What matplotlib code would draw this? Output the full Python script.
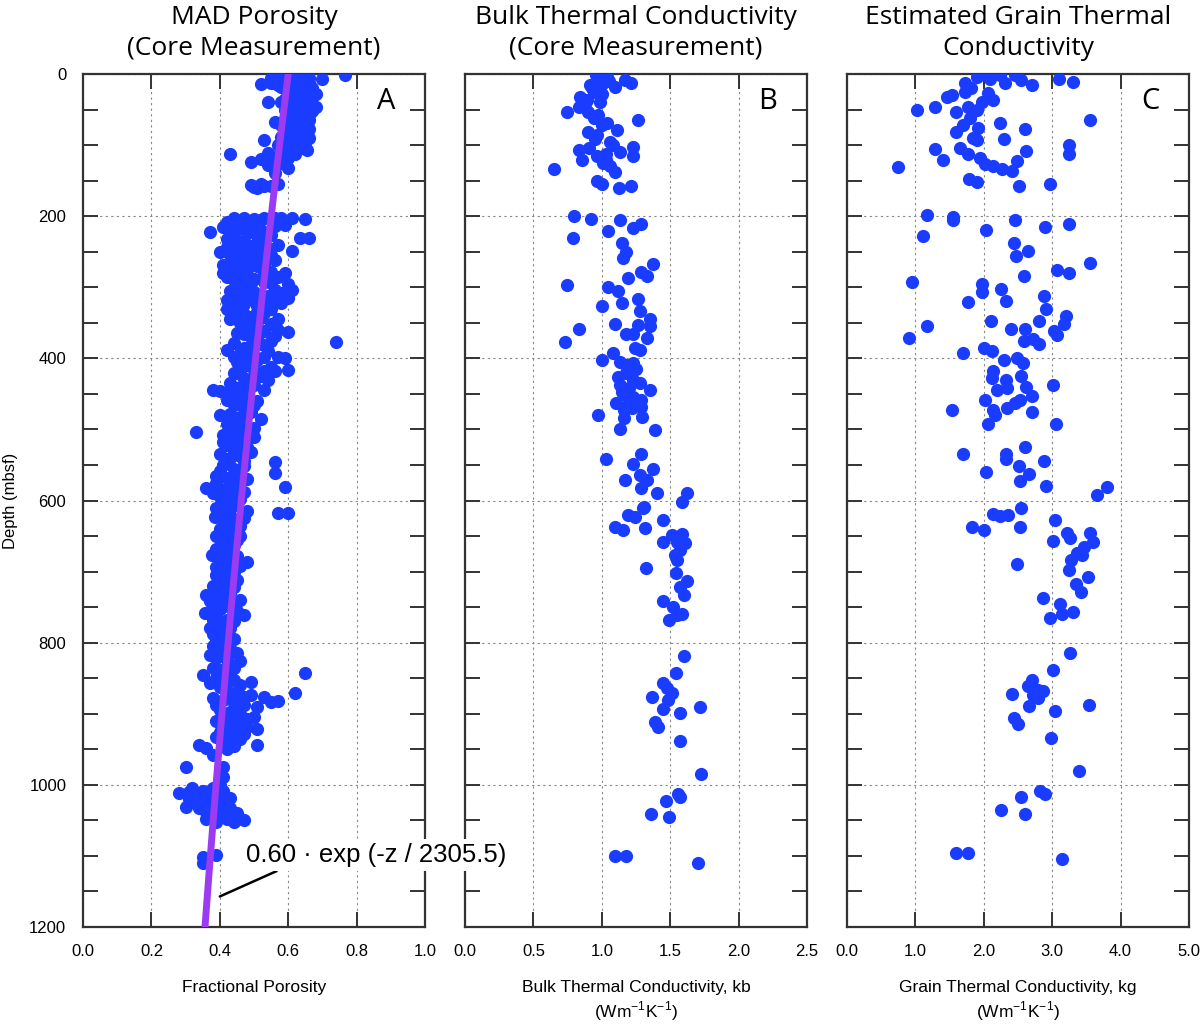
import numpy as np
import matplotlib.pyplot as plt
from matplotlib.ticker import MultipleLocator, FormatStrFormatter

plt.rcParams['font.family'] = ['Liberation Sans Narrow', 'Liberation Sans', 'DejaVu Sans']

# panel A: MAD porosity (porosity, depth mbsf), split by depth interval
mad_0_170 = [
    (0.55, 5), (0.58, 2), (0.61, 0), (0.62, 3), (0.63, 1), (0.64, 4), (0.65, 2), (0.66, 6), (0.70, 7), (0.766, 1),
    (0.52, 14), (0.55, 12), (0.57, 15), (0.63, 10), (0.65, 15),
    (0.58, 18), (0.60, 12), (0.61, 20), (0.62, 15), (0.63, 22), (0.64, 18), (0.65, 25), (0.66, 12), (0.67, 20),
    (0.68, 28), (0.60, 26), (0.62, 29), (0.66, 30),
    (0.54, 39), (0.59, 35), (0.60, 42), (0.61, 38), (0.62, 45), (0.63, 33), (0.64, 40), (0.65, 50), (0.66, 36),
    (0.67, 44), (0.68, 46), (0.60, 55), (0.62, 52), (0.64, 57), (0.66, 58), (0.62, 35), (0.63, 55), (0.59, 50),
    (0.56, 67), (0.58, 72), (0.59, 63), (0.60, 70), (0.61, 80), (0.62, 65), (0.63, 75), (0.64, 85), (0.65, 68),
    (0.66, 78), (0.58, 88), (0.60, 95), (0.62, 90), (0.63, 100), (0.65, 97), (0.655, 107), (0.53, 93), (0.57, 100),
    (0.59, 104), (0.61, 108), (0.54, 111), (0.64, 65), (0.61, 92),
    (0.43, 113), (0.49, 124), (0.52, 120), (0.55, 118), (0.57, 115), (0.58, 125), (0.60, 132), (0.56, 139),
    (0.54, 128), (0.59, 119), (0.62, 113),
    (0.49, 156), (0.50, 159), (0.52, 154), (0.53, 158), (0.55, 157), (0.57, 155), (0.51, 161),
    (0.60, 5), (0.63, 6), (0.59, 10), (0.61, 27), (0.64, 24), (0.67, 32), (0.58, 40), (0.65, 42), (0.61, 48),
    (0.67, 52), (0.63, 62), (0.60, 60), (0.66, 64), (0.62, 72), (0.65, 80), (0.59, 78), (0.63, 86), (0.60, 84),
    (0.66, 90), (0.62, 98), (0.64, 104), (0.58, 110), (0.60, 118), (0.57, 126),
]

mad_200_470 = [
    (0.44, 203), (0.47, 203), (0.50, 204), (0.53, 203), (0.56, 202), (0.58, 203), (0.61, 202), (0.65, 204),
    (0.42, 208), (0.45, 210), (0.52, 206), (0.37, 222), (0.635, 231), (0.66, 231), (0.61, 249), (0.59, 280),
    (0.57, 240), (0.55, 226),
    (0.41, 215), (0.43, 220), (0.45, 218), (0.48, 224), (0.50, 216), (0.53, 222), (0.42, 232), (0.44, 238),
    (0.47, 235), (0.49, 242), (0.52, 236), (0.54, 245), (0.40, 250), (0.43, 255), (0.45, 248), (0.47, 260),
    (0.50, 252), (0.53, 258), (0.56, 262), (0.41, 268), (0.43, 272), (0.46, 266), (0.48, 275), (0.51, 270),
    (0.55, 278), (0.42, 285), (0.44, 290), (0.47, 282), (0.50, 288), (0.53, 292), (0.57, 286), (0.60, 296),
    (0.45, 298), (0.48, 300),
    (0.43, 305), (0.46, 310), (0.50, 306), (0.54, 312), (0.58, 308), (0.61, 304), (0.42, 318), (0.45, 322),
    (0.49, 316), (0.53, 325), (0.56, 320), (0.60, 315), (0.44, 332), (0.47, 338), (0.51, 335), (0.55, 330),
    (0.43, 345), (0.46, 350), (0.48, 356), (0.52, 343), (0.55, 352), (0.57, 360), (0.60, 363), (0.45, 365),
    (0.49, 370), (0.44, 378), (0.47, 385), (0.52, 380), (0.55, 375), (0.74, 377), (0.46, 392), (0.50, 396),
    (0.54, 390), (0.57, 398),
    (0.59, 400), (0.60, 416), (0.45, 405), (0.48, 410), (0.51, 403), (0.55, 412), (0.44, 420), (0.47, 428),
    (0.52, 425), (0.56, 418), (0.43, 435), (0.46, 440), (0.50, 437), (0.38, 444), (0.40, 446), (0.42, 449),
    (0.53, 445), (0.45, 455), (0.48, 452), (0.51, 460), (0.44, 465), (0.47, 470),
    (0.46, 212), (0.49, 210), (0.56, 214), (0.59, 212), (0.44, 226), (0.51, 228), (0.46, 244), (0.51, 246),
    (0.42, 244), (0.48, 254), (0.55, 254), (0.44, 262), (0.50, 264), (0.53, 267), (0.45, 276), (0.53, 280),
    (0.41, 280), (0.46, 290), (0.49, 294), (0.55, 294), (0.44, 306), (0.48, 312), (0.52, 316), (0.56, 304),
    (0.47, 324), (0.51, 326), (0.58, 322), (0.42, 330), (0.49, 342), (0.53, 336), (0.57, 344), (0.45, 342),
    (0.50, 356), (0.53, 362), (0.47, 366), (0.51, 372), (0.56, 368), (0.49, 382), (0.42, 388), (0.53, 398),
    (0.48, 398), (0.44, 398), (0.50, 416), (0.53, 418), (0.46, 422), (0.49, 430), (0.54, 430), (0.44, 444),
    (0.48, 446), (0.47, 460), (0.50, 466), (0.42, 458),
]

mad_470_960 = [
    (0.43, 478), (0.46, 482), (0.49, 475), (0.52, 485), (0.42, 492), (0.45, 496), (0.48, 500), (0.33, 504),
    (0.41, 508), (0.44, 512), (0.47, 515), (0.50, 510), (0.42, 522), (0.45, 528), (0.48, 525), (0.40, 535),
    (0.43, 540), (0.46, 538), (0.56, 546), (0.41, 550), (0.44, 555), (0.47, 552), (0.56, 561), (0.39, 565),
    (0.42, 568), (0.45, 572), (0.36, 582), (0.39, 576), (0.41, 585), (0.44, 580), (0.47, 588), (0.59, 581),
    (0.40, 595), (0.43, 600), (0.46, 598),
    (0.57, 618), (0.60, 618), (0.39, 610), (0.42, 612), (0.45, 606), (0.48, 615), (0.386, 623), (0.41, 628),
    (0.44, 632), (0.47, 625), (0.40, 640), (0.43, 645), (0.46, 650), (0.41, 658), (0.44, 662), (0.39, 668),
    (0.42, 672), (0.377, 677), (0.45, 678), (0.48, 686), (0.40, 685), (0.43, 690), (0.41, 698),
    (0.39, 705), (0.42, 710), (0.45, 712), (0.38, 720), (0.41, 725), (0.44, 722), (0.36, 733), (0.39, 735),
    (0.42, 738), (0.46, 740), (0.38, 748), (0.40, 752), (0.43, 750), (0.357, 758), (0.47, 761), (0.39, 762),
    (0.42, 768), (0.40, 775), (0.43, 780), (0.38, 788), (0.41, 792), (0.44, 795),
    (0.38, 805), (0.40, 810), (0.43, 808), (0.37, 818), (0.39, 822), (0.42, 825), (0.46, 826), (0.35, 845),
    (0.38, 835), (0.40, 838), (0.43, 842), (0.65, 843), (0.39, 850), (0.41, 855), (0.44, 852), (0.49, 855),
    (0.40, 862), (0.42, 866), (0.45, 870), (0.49, 873), (0.53, 876), (0.57, 882), (0.62, 871), (0.38, 878),
    (0.41, 880), (0.44, 885), (0.47, 888), (0.40, 895), (0.43, 898), (0.46, 900), (0.50, 905), (0.39, 910),
    (0.42, 915), (0.45, 912), (0.48, 918), (0.51, 922), (0.40, 925), (0.43, 930), (0.46, 935), (0.41, 940),
    (0.44, 945), (0.51, 944), (0.34, 944), (0.36, 948),
    (0.40, 480), (0.44, 488), (0.47, 492), (0.50, 498), (0.45, 506), (0.43, 500), (0.41, 518), (0.46, 520),
    (0.49, 532), (0.44, 530), (0.42, 545), (0.47, 545), (0.40, 558), (0.45, 562), (0.43, 575), (0.48, 570),
    (0.38, 590), (0.42, 592), (0.45, 590), (0.41, 602), (0.44, 606), (0.40, 620), (0.43, 620), (0.46, 636),
    (0.42, 636), (0.39, 650), (0.45, 655), (0.42, 652), (0.40, 676), (0.43, 680), (0.46, 692), (0.39, 694),
    (0.44, 700), (0.40, 714), (0.43, 730), (0.37, 742), (0.41, 745), (0.45, 756), (0.38, 768), (0.44, 770),
    (0.37, 780), (0.41, 784), (0.39, 798), (0.42, 800), (0.45, 815), (0.41, 817), (0.44, 835), (0.37, 856),
    (0.46, 860), (0.43, 872), (0.47, 876), (0.39, 888), (0.51, 890), (0.45, 895), (0.42, 905), (0.48, 908),
    (0.55, 884), (0.44, 922), (0.47, 928), (0.39, 932), (0.42, 950), (0.38, 958),
]

mad_960_1110 = [
    (0.30, 975), (0.41, 975), (0.41, 989), (0.40, 1000), (0.38, 1005), (0.28, 1012), (0.31, 1010), (0.33, 1013),
    (0.35, 1015), (0.37, 1012), (0.41, 1008), (0.43, 1018), (0.30, 1031), (0.33, 1022), (0.35, 1025),
    (0.37, 1028), (0.39, 1030), (0.41, 1035), (0.43, 1032), (0.45, 1040), (0.47, 1050), (0.36, 1038),
    (0.38, 1042), (0.40, 1045), (0.42, 1048), (0.44, 1052), (0.35, 1101), (0.35, 1110), (0.39, 1099),
    (0.32, 1005), (0.35, 1008), (0.39, 1018), (0.41, 1022), (0.31, 1020), (0.34, 1032), (0.37, 1036),
    (0.40, 1025), (0.42, 1040), (0.45, 1048), (0.39, 1052), (0.36, 1048),
]

# panel B: bulk thermal conductivity kb (W/m/K, depth)
kb_points = [
    (0.96, 1), (1.035, 4), (1.17, 8), (1.21, 13), (1.10, 18), (0.915, 15), (0.94, 25), (1.01, 13), (0.84, 32),
    (0.89, 37), (0.745, 53), (0.83, 46), (0.99, 39), (0.90, 53), (0.94, 62), (1.04, 69), (1.265, 65), (1.11, 79),
    (0.90, 81), (0.965, 86), (1.06, 95), (0.83, 107), (0.91, 104), (1.13, 109), (1.23, 103), (1.23, 115),
    (0.855, 121), (0.965, 116), (1.01, 125), (1.06, 130), (1.10, 138), (1.03, 121), (0.65, 133), (0.965, 151),
    (1.0, 155), (1.125, 161), (1.21, 158), (0.98, 5), (1.05, 10), (0.93, 20), (1.0, 28), (0.88, 42), (0.97, 58),
    (1.0, 72), (0.95, 92), (1.08, 100), (1.03, 112),
    (0.80, 200), (0.92, 204), (0.79, 230), (1.045, 221), (1.13, 205), (1.23, 217), (1.29, 211), (1.15, 238),
    (1.18, 250), (1.155, 259), (1.375, 267), (1.29, 278), (1.33, 284), (1.19, 287), (0.745, 297), (1.045, 299),
    (1.12, 305), (1.265, 316), (1.0, 326), (1.15, 322), (1.28, 334), (1.355, 344), (1.355, 355), (1.095, 352),
    (1.265, 353), (1.18, 366), (1.23, 366), (1.33, 372), (0.83, 359), (0.73, 377), (1.24, 386), (1.28, 388),
    (1.085, 393), (1.0, 402),
    (1.13, 405), (1.18, 409), (1.23, 407), (1.12, 426), (1.18, 421), (1.23, 430), (1.13, 438), (1.20, 442),
    (1.28, 435), (1.355, 445), (1.17, 452), (1.23, 454), (1.29, 459), (1.105, 463), (1.16, 473), (1.22, 470),
    (1.29, 468), (0.975, 480), (1.16, 484), (1.295, 482), (1.13, 500), (1.39, 501), (1.25, 415), (1.20, 463),
    (1.15, 448),
    (1.03, 542), (1.23, 548), (1.29, 534), (1.375, 555), (1.28, 564), (1.33, 571), (1.17, 571), (1.29, 583),
    (1.40, 590), (1.585, 602), (1.62, 590), (1.31, 609),
    (1.30, 611), (1.19, 621), (1.24, 623), (1.45, 628), (1.10, 637), (1.155, 642), (1.315, 639), (1.51, 649),
    (1.585, 647), (1.45, 658), (1.55, 658), (1.61, 660), (1.57, 670), (1.535, 677), (1.55, 684), (1.32, 695),
    (1.54, 702), (1.62, 713), (1.57, 722), (1.60, 733), (1.45, 741), (1.52, 750), (1.585, 759), (1.55, 761),
    (1.49, 768),
    (1.60, 819), (1.54, 842), (1.45, 857), (1.475, 864), (1.51, 871), (1.37, 876), (1.485, 881), (1.45, 893),
    (1.72, 891), (1.57, 899), (1.39, 911), (1.41, 919), (1.57, 938), (1.725, 985), (1.56, 1013), (1.57, 1017),
    (1.47, 1022), (1.36, 1041), (1.49, 1045), (1.10, 1100), (1.18, 1100), (1.70, 1110),
]

# panel C: estimated grain thermal conductivity kg (W/m/K, depth)
kg_points = [
    (1.90, 4), (2.00, 0), (2.24, 1), (2.46, 2), (2.55, 9), (2.70, 15), (3.10, 7), (3.31, 11), (2.09, 7), (2.31, 13),
    (1.73, 13), (1.73, 25), (1.82, 20), (2.06, 27), (2.14, 37), (1.46, 32), (1.53, 29), (1.29, 46), (1.02, 51),
    (1.60, 53), (1.77, 46), (1.90, 51), (1.97, 39), (1.80, 62), (1.70, 72), (2.24, 69), (3.56, 65), (1.92, 76),
    (1.60, 81), (2.60, 78), (1.84, 90), (1.90, 93), (2.30, 91), (1.65, 104), (1.77, 113), (1.29, 106),
    (1.40, 121), (2.62, 108), (3.25, 100), (3.24, 113), (1.94, 118), (2.02, 127), (2.14, 130), (2.26, 133),
    (2.41, 136), (2.48, 122), (0.74, 131), (1.79, 148), (1.90, 152), (2.52, 157), (2.97, 155),
    (1.17, 199), (1.55, 201), (1.55, 205), (2.46, 205), (2.04, 219), (2.90, 215), (3.25, 211), (1.11, 228),
    (2.44, 237), (2.64, 249), (2.47, 256), (3.56, 266), (3.07, 275), (3.25, 280), (2.59, 284), (0.955, 293),
    (1.97, 295), (1.97, 306), (2.25, 302), (1.77, 321), (2.32, 319), (2.88, 312), (2.91, 331), (3.20, 340),
    (3.17, 352), (2.10, 347), (1.17, 354), (0.91, 371), (2.40, 359), (2.61, 358), (2.81, 348), (3.02, 361),
    (3.07, 367), (2.59, 376), (2.72, 373), (2.81, 380), (1.70, 392),
    (2.00, 386), (2.12, 390), (2.29, 402), (2.48, 400), (2.58, 407), (2.14, 418), (2.12, 428), (2.33, 430),
    (2.55, 425), (2.62, 440), (2.19, 444), (2.34, 441), (2.71, 453), (2.53, 458), (2.02, 458), (2.14, 472),
    (2.34, 470), (2.46, 463), (2.71, 476), (2.17, 480), (3.01, 438), (1.53, 473), (2.06, 492), (3.06, 492),
    (1.70, 534), (2.60, 525), (2.33, 535), (2.33, 542), (2.88, 545), (2.04, 560), (2.52, 552), (2.66, 562),
    (2.53, 573), (2.91, 580), (3.80, 581), (3.65, 592),
    (2.55, 611), (2.14, 619), (2.24, 622), (2.36, 621), (3.04, 627), (1.83, 637), (2.00, 641), (2.53, 637),
    (3.21, 646), (3.26, 653), (3.55, 646), (3.60, 658), (3.01, 657), (3.46, 665), (3.36, 674), (3.43, 676),
    (3.28, 683), (2.49, 689), (3.25, 698), (3.53, 708), (3.35, 718), (3.42, 728), (2.87, 737), (3.12, 746),
    (3.15, 760), (3.31, 757), (2.97, 765),
    (3.26, 814), (3.01, 838), (2.70, 852), (2.65, 861), (2.80, 866), (2.87, 868), (2.72, 873), (2.80, 878),
    (2.42, 872), (3.54, 887), (2.66, 889), (3.04, 896), (2.44, 906), (2.50, 915), (2.98, 934), (3.39, 981),
    (2.82, 1009), (2.89, 1013), (2.55, 1017), (2.25, 1036), (2.61, 1041), (1.59, 1096), (1.77, 1096),
    (3.15, 1105),
]

mad = np.array(mad_0_170 + mad_200_470 + mad_470_960 + mad_960_1110)
kb = np.array(kb_points)
kg = np.array(kg_points)

# exponential porosity fit
phi0 = 0.60
decay = 2305.5
fit_depth = np.linspace(0, 1200, 200)
fit_por = phi0 * np.exp(-fit_depth / decay)

dot_color = '#1a3cff'
fit_color = '#9b3cf2'
title_font = ['Open Sans', 'DejaVu Sans']
unit = '(Wm$^{\\mathregular{-1}}$K$^{\\mathregular{-1}}$)'

fig = plt.figure(figsize=(12, 10.24), dpi=100)
ax_a = fig.add_axes([0.0692, 0.0947, 0.285, 0.833])
ax_b = fig.add_axes([0.3875, 0.0947, 0.285, 0.833])
ax_c = fig.add_axes([0.7058, 0.0947, 0.285, 0.833])
ax_a.set_zorder(5)

panels = [
    (ax_a, mad, (0, 1.0), 0.2, 'MAD Porosity\n(Core Measurement)', 'A', 'Fractional Porosity'),
    (ax_b, kb, (0, 2.5), 0.5, 'Bulk Thermal Conductivity\n(Core Measurement)', 'B',
     'Bulk Thermal Conductivity, kb\n' + unit),
    (ax_c, kg, (0, 5.0), 1.0, 'Estimated Grain Thermal\nConductivity', 'C',
     'Grain Thermal Conductivity, kg\n' + unit),
]

for ax, pts, xlim, xstep, title, letter, xlabel in panels:
    ax.plot(pts[:, 0], pts[:, 1], 'o', color=dot_color, markersize=9.5, markeredgewidth=0, zorder=3)
    ax.set_xlim(*xlim)
    ax.set_ylim(1200, 0)
    ax.xaxis.set_major_locator(MultipleLocator(xstep))
    ax.xaxis.set_major_formatter(FormatStrFormatter('%.1f'))
    ax.yaxis.set_major_locator(MultipleLocator(200))
    ax.yaxis.set_minor_locator(MultipleLocator(50))
    ax.tick_params(which='both', direction='in', length=11, width=1.4, color='#333333',
                   top=True, right=True, labelsize=12, pad=12)
    ax.grid(True, which='major', linestyle=(0, (2, 3)), color='#888888', linewidth=0.8)
    for sp in ax.spines.values():
        sp.set_color('#333333')
        sp.set_linewidth(1.6)
    ax.set_title(title, fontsize=19, family=title_font, pad=14, linespacing=1.3)
    ax.text(0.886, 0.968, letter, transform=ax.transAxes, fontsize=21, family=title_font,
            ha='center', va='center')
    ax.set_xlabel(xlabel, fontsize=12.5, labelpad=15, linespacing=1.25)
    if ax is not ax_a:
        ax.tick_params(axis='y', labelleft=False)

ax_a.set_ylabel('Depth (mbsf)', fontsize=12, labelpad=8)

ax_a.plot(fit_por, fit_depth, color=fit_color, linewidth=5, solid_capstyle='round', zorder=4)
ax_a.annotate(f'{phi0:.2f} · exp (-z / {decay})', xy=(0.40, 1157), xytext=(0.477, 1099),
              fontsize=18.5, family=['Liberation Sans', 'DejaVu Sans'], va='center', ha='left',
              annotation_clip=False, zorder=10,
              bbox=dict(boxstyle='square,pad=0.15', facecolor='white', edgecolor='none'),
              arrowprops=dict(arrowstyle='-', color='black', lw=1.8, relpos=(0.15, 0.0),
                              shrinkA=0, shrinkB=0))

fig.savefig('out.png', dpi=100)
